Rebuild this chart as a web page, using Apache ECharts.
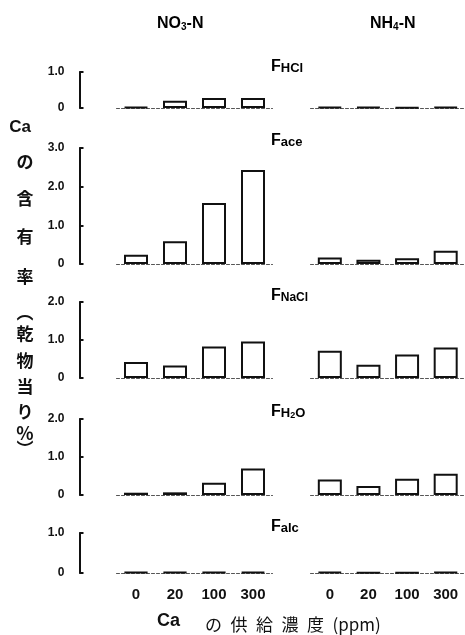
<!DOCTYPE html>
<html><head><meta charset="utf-8">
<script src="https://cdn.jsdelivr.net/npm/echarts@6/dist/echarts.min.js"></script>
<style>html,body{margin:0;padding:0;background:#fff}#c{width:465px;height:635px}</style>
</head><body><div id="c"></div>
<script>
// ---- data ----
var categories = ['0', '20', '100', '300'];
var panelNames = ['HCl', 'ace', 'NaCl', 'H2O', 'alc'];
var yMax = [1, 3, 2, 2, 1];
var hclNO3 = [0.03, 0.2, 0.28, 0.28];
var hclNH4 = [0.03, 0.03, 0.02, 0.03];
var aceNO3 = [0.24, 0.59, 1.58, 2.43];
var aceNH4 = [0.17, 0.11, 0.15, 0.34];
var naclNO3 = [0.42, 0.33, 0.83, 0.96];
var naclNH4 = [0.72, 0.35, 0.62, 0.80];
var h2oNO3 = [0.06, 0.07, 0.32, 0.70];
var h2oNH4 = [0.41, 0.24, 0.43, 0.56];
var alcNO3 = [0.02, 0.02, 0.02, 0.03];
var alcNH4 = [0.03, 0.01, 0.01, 0.02];
var yTitle1 = 'Ca';
var yTitleChars = ['の', '含', '有', '率', '︵', '乾', '物', '当', 'り', '%', '︶'];
var xTitleA = 'Ca';
var xTitleB = 'の\u2002供\u2002給\u2002濃\u2002度\u2002(ppm)';

var seriesData = [[hclNO3, hclNH4], [aceNO3, aceNH4], [naclNO3, naclNH4], [h2oNO3, h2oNH4], [alcNO3, alcNH4]];

// ---- layout ----
var rows = [{top: 72, h: 36}, {top: 148, h: 116}, {top: 302, h: 76}, {top: 419, h: 76}, {top: 533, h: 40}];
var cols = [{left: 116.5, w: 156}, {left: 310.5, w: 154.5}];
var FONT = '"Liberation Sans", Arial, sans-serif';
var CJK = '"Noto Sans CJK JP", sans-serif';

var grid = [], xAxis = [], yAxis = [], series = [];
var gi = 0;
rows.forEach(function (r, ri) {
  cols.forEach(function (c, ci) {
    grid.push({left: c.left, top: r.top, width: c.w, height: r.h});
    xAxis.push({
      type: 'category', gridIndex: gi, data: categories,
      axisLine: {show: true, lineStyle: {color: '#555', width: 1, type: [3, 2]}},
      axisTick: {show: false},
      axisLabel: {show: ri === 4, margin: 14, color: '#111', fontSize: 15, fontWeight: 'bold', fontFamily: FONT}
    });
    yAxis.push({
      type: 'value', gridIndex: gi, min: 0, max: yMax[ri], interval: 1,
      show: ci === 0, offset: 37,
      splitLine: {show: false},
      axisLine: {show: true, lineStyle: {color: '#111', width: 2}},
      axisTick: {show: true, inside: true, length: 4, lineStyle: {color: '#111', width: 2}},
      axisLabel: {margin: 15, color: '#111', fontSize: 12, fontWeight: 'bold', fontFamily: FONT,
        formatter: function (v) { return v === 0 ? '0' : v.toFixed(1); }}
    });
    series.push({
      type: 'bar', xAxisIndex: gi, yAxisIndex: gi, barWidth: 24,
      data: seriesData[ri][ci], silent: true,
      itemStyle: {color: '#fff', borderColor: '#111', borderWidth: 2}
    });
    gi++;
  });
});

var graphic = [];
// column titles
var titleRich = {
  m: {fontSize: 16, fontWeight: 'bold', fontFamily: FONT, color: '#111', lineHeight: 20, verticalAlign: 'bottom'},
  s: {fontSize: 10, fontWeight: 'bold', fontFamily: FONT, color: '#111', lineHeight: 9, verticalAlign: 'bottom'}
};
graphic.push({type: 'text', left: 157, top: 16, style: {text: '{m|NO}{s|3}{m|-N}', rich: titleRich}});
graphic.push({type: 'text', left: 370, top: 16, style: {text: '{m|NH}{s|4}{m|-N}', rich: titleRich}});

// panel labels
var pRich = {
  f: {fontSize: 16, fontWeight: 'bold', fontFamily: FONT, color: '#111', lineHeight: 19, verticalAlign: 'bottom'},
  a: {fontSize: 13, fontWeight: 'bold', fontFamily: FONT, color: '#111', lineHeight: 16, verticalAlign: 'bottom'},
  b: {fontSize: 12, fontWeight: 'bold', fontFamily: FONT, color: '#111', lineHeight: 12, verticalAlign: 'bottom'},
  c: {fontSize: 9, fontWeight: 'bold', fontFamily: FONT, color: '#111', lineHeight: 9, verticalAlign: 'bottom'}
};
var pTexts = ['{f|F}{a|HCl}', '{f|F}{a|ace}', '{f|F}{b|NaCl}', '{f|F}{a|H}{c|2}{a|O}', '{f|F}{a|alc}'];
var pTops = [59, 133, 288, 404, 519];
pTexts.forEach(function (t, i) {
  graphic.push({type: 'text', left: 271, top: pTops[i], style: {text: t, rich: pRich}});
});

// y title
graphic.push({type: 'text', x: 20, y: 127, style: {text: yTitle1, fontSize: 17, fontWeight: 'bold', fontFamily: FONT, fill: '#111', align: 'center', verticalAlign: 'middle'}});
var yPos = [162, 199, 237, 277, 313, 334, 361, 387, 412, 433, 449];
yTitleChars.forEach(function (ch, i) {
  graphic.push({type: 'text', x: 25, y: yPos[i], style: {text: ch, fontSize: ch === '%' ? 18 : 17, fontWeight: 'bold', fontFamily: CJK, fill: '#111', align: 'center', verticalAlign: 'middle'}});
});

// x title
graphic.push({type: 'text', x: 157, y: 621, style: {text: xTitleA, fontSize: 18, fontWeight: 'bold', fontFamily: FONT, fill: '#111', verticalAlign: 'middle'}});
graphic.push({type: 'text', x: 205, y: 625, style: {text: xTitleB, fontSize: 17, fontFamily: CJK, fill: '#111', verticalAlign: 'middle'}});

var chart = echarts.init(document.getElementById('c'), null, {renderer: 'canvas'});
chart.setOption({
  animation: false, backgroundColor: '#fff',
  grid: grid, xAxis: xAxis, yAxis: yAxis, series: series, graphic: graphic
});
</script></body></html>
